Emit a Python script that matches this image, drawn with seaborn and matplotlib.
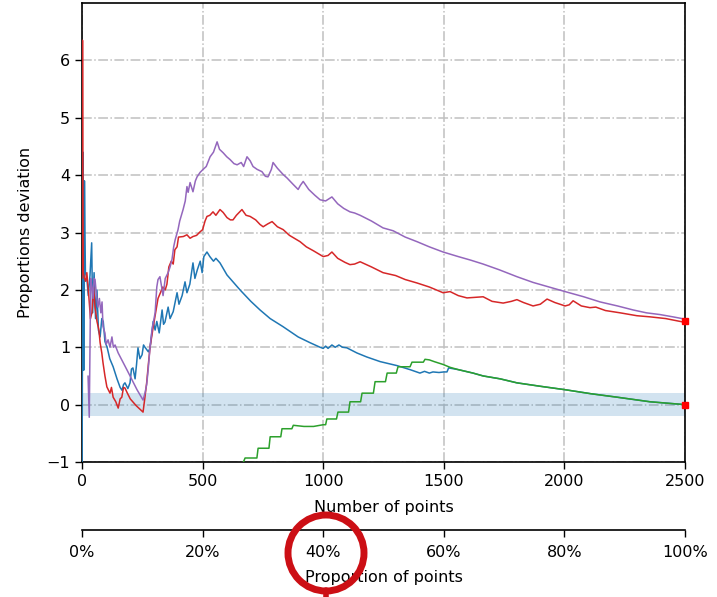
import numpy as np
import pandas as pd
import matplotlib
matplotlib.use("Agg")
import matplotlib.pyplot as plt
import seaborn as sns
from matplotlib.patches import Ellipse
from matplotlib.lines import Line2D
from matplotlib.ticker import PercentFormatter

TOTAL_POINTS = 2500

blue_x = [0, 4, 7, 10, 14, 20, 26, 33, 40, 44, 50, 56, 62, 68, 75, 82, 88, 95, 104, 115, 129, 145, 158, 166, 172, 178, 190, 199, 205, 211, 220, 226, 232, 240, 249, 255, 261, 275, 282, 295, 303, 310, 320, 332, 338, 344, 357, 365, 378, 394, 402, 415, 427, 435, 447, 460, 468, 478, 490, 498, 505, 518, 530, 545, 555, 572, 601, 655, 700, 738, 780, 833, 896, 945, 987, 1000, 1010, 1020, 1036, 1050, 1065, 1080, 1098, 1140, 1181, 1236, 1306, 1360, 1401, 1420, 1440, 1455, 1480, 1500, 1513, 1520, 1560, 1621, 1663, 1733, 1803, 1900, 2003, 2110, 2218, 2355, 2500]
blue_y = [-1.6, 4.4, 0.6, 3.9, 2.3, 2.2, 1.9, 2.25, 2.82, 1.6, 2.3, 1.5, 2.0, 1.3, 1.18, 1.5, 1.45, 1.1, 1.0, 0.8, 0.66, 0.45, 0.3, 0.25, 0.35, 0.38, 0.28, 0.38, 0.62, 0.64, 0.45, 0.7, 0.99, 0.8, 0.87, 1.04, 1.0, 0.92, 0.99, 1.45, 1.3, 1.45, 1.25, 1.65, 1.4, 1.44, 1.7, 1.5, 1.62, 1.95, 1.75, 1.9, 2.14, 1.95, 2.1, 2.47, 2.2, 2.35, 2.5, 2.3, 2.58, 2.66, 2.58, 2.5, 2.55, 2.47, 2.26, 2.0, 1.8, 1.65, 1.5, 1.36, 1.18, 1.08, 1.0, 0.98, 1.02, 0.98, 1.04, 1.0, 1.04, 1.0, 0.99, 0.9, 0.83, 0.75, 0.68, 0.61, 0.55, 0.58, 0.55, 0.57, 0.56, 0.57, 0.57, 0.64, 0.61, 0.55, 0.5, 0.45, 0.38, 0.32, 0.26, 0.19, 0.13, 0.05, 0.0]

red_x = [0, 2, 5, 10, 15, 20, 28, 35, 41, 48, 54, 62, 70, 75, 82, 87, 95, 103, 110, 116, 122, 129, 140, 150, 158, 165, 172, 178, 188, 200, 225, 253, 260, 268, 275, 282, 295, 305, 315, 325, 335, 345, 352, 360, 370, 378, 385, 394, 400, 420, 435, 448, 460, 475, 489, 500, 510, 518, 530, 543, 555, 572, 585, 601, 615, 626, 640, 663, 680, 697, 720, 738, 751, 770, 788, 810, 834, 860, 880, 904, 930, 960, 1000, 1020, 1036, 1060, 1090, 1111, 1130, 1153, 1200, 1248, 1300, 1340, 1389, 1440, 1497, 1526, 1560, 1596, 1630, 1663, 1700, 1746, 1780, 1803, 1830, 1870, 1900, 1928, 1960, 2003, 2020, 2036, 2070, 2106, 2130, 2170, 2231, 2300, 2355, 2420, 2492, 2500]
red_y = [2.2, 6.35, 2.3, 2.2, 2.15, 2.3, 1.9, 1.5, 1.6, 2.05, 1.7, 1.45, 1.3, 1.08, 0.9, 0.73, 0.5, 0.31, 0.25, 0.2, 0.3, 0.13, 0.05, -0.06, 0.1, 0.13, 0.3, 0.29, 0.2, 0.1, -0.02, -0.13, 0.1, 0.38, 0.7, 1.0, 1.35, 1.6, 1.85, 1.95, 2.05, 2.0, 2.1, 2.4, 2.5, 2.45, 2.7, 2.75, 2.92, 2.93, 2.96, 2.9, 2.93, 2.95, 3.01, 3.05, 3.2, 3.28, 3.3, 3.36, 3.3, 3.4, 3.35, 3.26, 3.22, 3.22, 3.3, 3.4, 3.3, 3.28, 3.22, 3.14, 3.1, 3.15, 3.19, 3.1, 3.05, 2.95, 2.9, 2.84, 2.75, 2.68, 2.58, 2.6, 2.66, 2.55, 2.48, 2.44, 2.45, 2.49, 2.4, 2.3, 2.25, 2.18, 2.12, 2.05, 1.95, 1.97, 1.9, 1.86, 1.87, 1.88, 1.8, 1.77, 1.8, 1.83, 1.78, 1.72, 1.75, 1.84, 1.78, 1.72, 1.74, 1.81, 1.72, 1.69, 1.7, 1.64, 1.6, 1.55, 1.53, 1.5, 1.44, 1.45]

purple_x = [25, 30, 36, 41, 46, 50, 54, 60, 66, 72, 78, 83, 87, 95, 100, 108, 116, 124, 130, 137, 150, 187, 228, 253, 261, 268, 274, 282, 290, 303, 310, 315, 323, 336, 345, 357, 365, 373, 380, 386, 398, 405, 419, 428, 435, 440, 448, 460, 470, 477, 490, 502, 515, 531, 545, 560, 570, 585, 600, 614, 630, 643, 660, 670, 684, 697, 709, 726, 746, 760, 771, 785, 792, 810, 834, 850, 875, 896, 905, 917, 940, 965, 987, 1010, 1036, 1060, 1085, 1111, 1130, 1153, 1200, 1248, 1290, 1340, 1389, 1440, 1497, 1560, 1610, 1663, 1730, 1803, 1870, 1928, 2003, 2080, 2148, 2220, 2285, 2340, 2396, 2450, 2500]
purple_y = [0.5, -0.22, 2.2, 2.05, 1.85, 2.2, 2.18, 1.9, 1.7, 1.85, 1.6, 1.79, 1.36, 1.25, 1.05, 1.13, 1.0, 1.18, 1.0, 1.04, 0.9, 0.6, 0.26, 0.08, 0.2, 0.35, 0.6, 1.0, 1.3, 1.6, 2.05, 2.18, 2.23, 1.9, 2.2, 2.3, 2.4, 2.53, 2.75, 2.87, 3.05, 3.2, 3.4, 3.55, 3.8, 3.7, 3.87, 3.71, 3.9, 3.97, 4.05, 4.1, 4.15, 4.32, 4.4, 4.58, 4.45, 4.39, 4.32, 4.27, 4.2, 4.18, 4.22, 4.15, 4.32, 4.25, 4.15, 4.1, 4.06, 3.98, 3.97, 4.1, 4.22, 4.12, 4.01, 3.95, 3.84, 3.75, 3.82, 3.89, 3.75, 3.65, 3.57, 3.55, 3.62, 3.5, 3.42, 3.36, 3.34, 3.3, 3.2, 3.08, 3.03, 2.92, 2.84, 2.75, 2.66, 2.58, 2.52, 2.45, 2.35, 2.23, 2.13, 2.06, 1.97, 1.88, 1.79, 1.72, 1.65, 1.6, 1.57, 1.53, 1.49]

green_x = [640, 676, 725, 730, 775, 780, 824, 829, 870, 876, 920, 960, 1000, 1010, 1015, 1055, 1061, 1105, 1111, 1155, 1161, 1208, 1215, 1258, 1265, 1303, 1310, 1360, 1368, 1415, 1422, 1440, 1460, 1497, 1526, 1560, 1621, 1663, 1733, 1803, 1900, 2003, 2110, 2218, 2355, 2500]
green_y = [-1.3, -0.93, -0.93, -0.76, -0.76, -0.56, -0.56, -0.42, -0.42, -0.36, -0.38, -0.38, -0.35, -0.35, -0.25, -0.25, -0.13, -0.13, 0.05, 0.05, 0.2, 0.2, 0.4, 0.4, 0.55, 0.55, 0.66, 0.66, 0.74, 0.74, 0.79, 0.78, 0.75, 0.7, 0.65, 0.61, 0.55, 0.5, 0.45, 0.38, 0.32, 0.26, 0.19, 0.13, 0.05, 0.0]

end_x = [2500, 2500]
end_y = [1.45, 0.0]

x_ticks = [0, 500, 1000, 1500, 2000, 2500]
y_ticks = [-1, 0, 1, 2, 3, 4, 5, 6]
pct_ticks = [0, 20, 40, 60, 80, 100]

sns.set_theme(style="ticks")
plt.rcParams['font.family'] = ['DejaVu Sans']

fig = plt.figure(figsize=(7.17, 5.97), dpi=100)
ax = fig.add_axes([0.1144, 0.2261, 0.8410, 0.7689])

ax.axhspan(-0.2, 0.2, color="#1f77b4", alpha=0.2, lw=0, zorder=1)

def draw(xs, ys, color):
    df = pd.DataFrame({"x": xs, "y": ys})
    sns.lineplot(data=df, x="x", y="y", ax=ax, color=color, lw=1.1,
                 estimator=None, sort=False, zorder=3)

draw(blue_x, blue_y, "#1f77b4")
draw(red_x, red_y, "#d62728")
draw(purple_x, purple_y, "#9467bd")
draw(green_x, green_y, "#2ca02c")

ax.plot(end_x, end_y, ls="none", marker="s", ms=5, color="red",
        clip_on=False, zorder=5)

ax.set_xlim(0, TOTAL_POINTS)
ax.set_ylim(-1, 7)
ax.set_xticks(x_ticks)
ax.set_yticks(y_ticks)
ax.grid(True, linestyle="-.", color="#c0c0c0", lw=1.1)
for s in ax.spines.values():
    s.set_visible(True)
    s.set_color("black")
    s.set_linewidth(1.2)
ax.tick_params(labelsize=11.5, colors="black", length=5, width=1)
ax.set_xlabel("Number of points", fontsize=11.5, color="black", labelpad=8)
ax.set_ylabel("Proportions deviation", fontsize=11.5, color="black", labelpad=10)

sec = ax.secondary_xaxis(-0.148, functions=(lambda v: v / TOTAL_POINTS * 100,
                                            lambda p: p * TOTAL_POINTS / 100))
sec.set_xticks(pct_ticks)
sec.xaxis.set_major_formatter(PercentFormatter(decimals=0))
sec.tick_params(labelsize=11.5, colors="black", length=5, width=1, pad=6)
sec.spines["bottom"].set_color("black")
sec.spines["bottom"].set_linewidth(1.2)
sec.set_xlabel("Proportion of points", fontsize=11.5, color="black", labelpad=7)

W, H = 717, 597
fig.add_artist(Ellipse((326 / W, 1 - 553 / H), width=76 / W, height=76 / H,
                       transform=fig.transFigure, fill=False,
                       ec="#cc0f15", lw=5, zorder=10))
fig.add_artist(Line2D([326 / W, 326 / W], [1 - 590 / H, 0], transform=fig.transFigure,
                      color="#cc0f15", lw=4, zorder=10))

fig.savefig("out.png", dpi=100)
